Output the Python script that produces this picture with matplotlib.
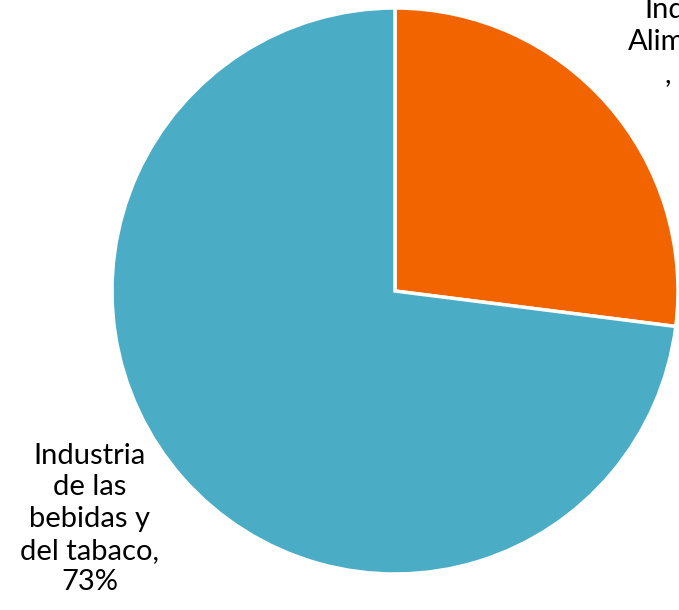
import matplotlib.pyplot as plt

categories = ["Industria\nAlimentaria\n", "Industria\nde las\nbebidas y\ndel tabaco,\n"]
shares = [27, 73]
colors = ["#F26400", "#4BACC6"]

fig = plt.figure(figsize=(6.79, 6.10), dpi=100)
cx, cy, r = 395, 291, 283
ax = fig.add_axes([(cx - r) / 679, (610 - cy - r) / 610, 2 * r / 679, 2 * r / 610])

ax.pie(shares, colors=colors, startangle=90, counterclock=False,
       wedgeprops=dict(edgecolor="white", linewidth=2.5))
ax.set_xlim(-1, 1)
ax.set_ylim(-1, 1)
ax.set_aspect("auto")
ax.axis("off")

# label positions (data units of the unit pie)
label_pos = [(1.08, 0.88), (-1.078, -0.806)]
for cat, val, (x, y) in zip(categories, shares, label_pos):
    txt = f"{cat}{val}%" if cat.endswith(",\n") else f"{cat}, {val}%"
    ax.text(x, y, txt, ha="center", va="center", fontsize=21,
            family="Lato", linespacing=1.27, color="black", clip_on=False)

fig.savefig("out.png", dpi=100)
